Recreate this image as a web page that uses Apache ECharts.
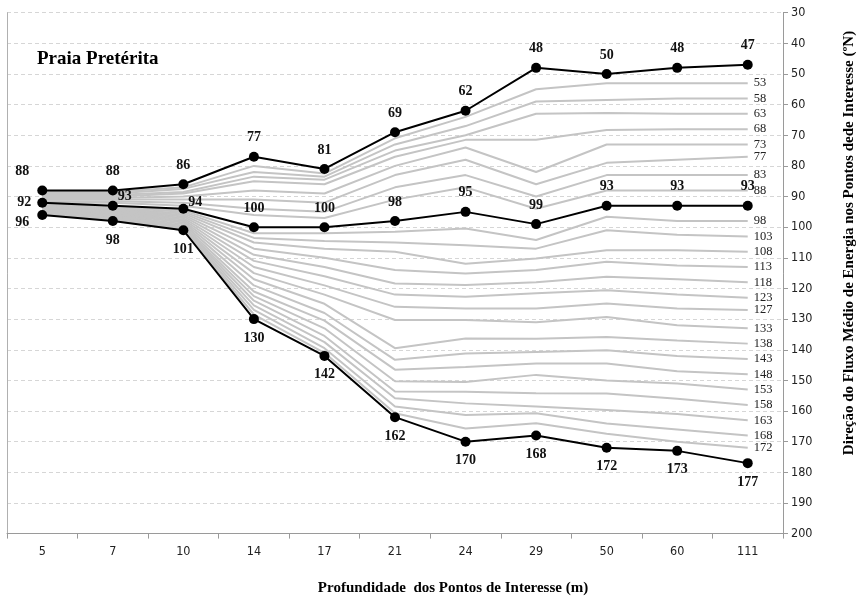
<!DOCTYPE html>
<html>
<head>
<meta charset="utf-8">
<script src="https://cdn.jsdelivr.net/npm/echarts@6/dist/echarts.min.js"></script>
<style>
  html, body { margin: 0; padding: 0; background: #fff; }
  #chart { width: 858px; height: 597px; }
</style>
</head>
<body>
<div id="chart"></div>
<script>
// Profundidade dos pontos de interesse (m)
const depths = ['5', '7', '10', '14', '17', '21', '24', '29', '50', '60', '111'];

// Direções destacadas (ºN)
const upperBlack  = [88, 88, 86, 77, 81, 69, 62, 48, 50, 48, 47];
const middleBlack = [92, 93, 94, 100, 100, 98, 95, 99, 93, 93, 93];
const lowerBlack  = [96, 98, 101, 130, 142, 162, 170, 168, 172, 173, 177];

// Demais direções (linhas cinzas), do topo para a base
const g53  = [88.5, 88.5, 87, 80, 82.5, 71, 64, 55, 53, 53, 53];
const g58  = [89, 89, 87.5, 82, 83.5, 73, 67, 59, 58.5, 58, 58];
const g63  = [89.5, 89.5, 88.5, 83.5, 84.5, 75, 70, 63, 62.7, 63, 63];
const g68  = [90, 90, 89, 85, 86, 77, 71.5, 71.5, 68.3, 68, 68];
const g73  = [90.5, 90.5, 90, 88, 89, 80, 74, 82, 73, 73, 73];
const g77  = [91, 91, 91, 91, 92, 83, 78, 86, 79, 78, 77];
const g83  = [91.5, 91.5, 92, 94, 95, 87, 83, 90, 83, 83, 83];
const g88  = [92, 92, 93, 96, 97, 91, 87, 94, 88, 88, 88];
const g98  = [92.3, 93.3, 94.5, 102, 102, 101.5, 100.4, 104.2, 96.6, 98, 98];
const g103 = [92.6, 93.6, 95, 103.5, 104.5, 105, 105.9, 107, 101, 102.5, 103];
const g108 = [92.9, 93.9, 95.5, 105, 107, 108, 111.9, 110.2, 107.5, 107.5, 108];
const g113 = [93.2, 94.2, 96, 107, 110, 114, 115.1, 114, 111.3, 112.5, 113];
const g118 = [93.5, 94.5, 96.5, 109, 113, 118.4, 118.9, 118, 116.2, 117, 118];
const g123 = [93.8, 94.8, 97, 111, 116, 122, 122.7, 121.6, 120.6, 122, 123];
const g127 = [94.1, 95.1, 97.5, 113, 119, 126, 126.5, 126.5, 124.9, 126.5, 127];
const g133 = [94.4, 95.4, 98, 115, 122, 130.3, 130.3, 131, 129.3, 132, 133];
const g138 = [94.7, 95.7, 98.5, 117, 125, 139.5, 136.3, 136.4, 135.8, 137, 138];
const g143 = [95, 96, 99, 119, 128, 143.3, 141.2, 140.7, 140.2, 142, 143];
const g148 = [95.2, 96.3, 99.5, 121, 130.5, 146.5, 145.6, 144.5, 144.5, 147, 148];
const g153 = [95.4, 96.6, 100, 122.5, 133, 150.3, 150.5, 148.2, 150, 151, 153];
const g158 = [95.6, 96.9, 100.3, 124, 135.5, 153.6, 153.7, 154.2, 154.3, 156, 158];
const g163 = [95.7, 97.2, 100.6, 125.5, 137.5, 155.8, 157.5, 158.5, 159.7, 161, 163];
const g168 = [95.8, 97.5, 100.8, 127, 139.5, 158.5, 161.3, 160.7, 164.1, 166, 168];
const g172 = [95.9, 97.8, 101, 128.5, 141, 160.7, 165.7, 164, 167.4, 170, 172];

const grayLines = [g53, g58, g63, g68, g73, g77, g83, g88,
                   g98, g103, g108, g113, g118, g123, g127, g133,
                   g138, g143, g148, g153, g158, g163, g168, g172];

const serif = '"Liberation Serif", "Times New Roman", serif';
const narrow = '"Liberation Sans Narrow", "DejaVu Sans Condensed", "Liberation Sans", sans-serif';

const labelFont = { fontFamily: serif, fontWeight: 'bold', fontSize: 14, color: '#111' };

function blackSeries(values, pos, special) {
  return {
    type: 'line',
    yAxisIndex: 0,
    z: 5,
    data: values.map((v, i) => special[i] ? { value: v, label: special[i] } : v),
    symbol: 'circle',
    symbolSize: 10,
    itemStyle: { color: '#000' },
    lineStyle: { color: '#000', width: 2 },
    label: Object.assign({ show: true, position: pos, distance: 7 }, labelFont),
    animation: false
  };
}

const series = grayLines.map(vals => ({
  type: 'line',
  yAxisIndex: 0,
  z: 2,
  data: vals,
  symbol: 'none',
  lineStyle: { color: '#c4c4c4', width: 2 },
  endLabel: {
    show: true,
    distance: 6,
    formatter: p => String(vals[vals.length - 1]),
    fontFamily: serif,
    fontSize: 12.5,
    color: '#222'
  },
  silent: true,
  animation: false
}));

series.push(blackSeries(upperBlack, 'top', { 0: { offset: [-20, 0] } }));
series.push(blackSeries(middleBlack, 'top', {
  0: { position: 'left', distance: 6, offset: [0, 0] },
  1: { offset: [12, 10] },
  2: { offset: [12, 13] }
}));
series.push(blackSeries(lowerBlack, 'bottom', { 0: { offset: [-20, -12] } }));

const chart = echarts.init(document.getElementById('chart'), null, { renderer: 'canvas' });
chart.setOption({
  backgroundColor: '#fff',
  animation: false,
  grid: { left: 7, right: 75, top: 12.7, bottom: 63.4 },
  xAxis: {
    type: 'category',
    data: depths,
    boundaryGap: true,
    axisLine: { onZero: false, lineStyle: { color: '#9a9a9a', width: 1 } },
    axisTick: { show: true, length: 5, lineStyle: { color: '#9a9a9a' } },
    axisLabel: { fontFamily: narrow, fontSize: 12.5, color: '#222', margin: 12 },
    splitLine: { show: false }
  },
  yAxis: [
    {
      type: 'value',
      position: 'right',
      inverse: true,
      min: 30,
      max: 200,
      interval: 10,
      axisLine: { show: true, lineStyle: { color: '#9a9a9a', width: 1 } },
      axisTick: { show: true, length: 5, lineStyle: { color: '#9a9a9a' } },
      axisLabel: { fontFamily: narrow, fontSize: 12.5, color: '#222', margin: 8 },
      splitLine: { show: true, lineStyle: { color: '#d6d6d6', type: [4, 3], width: 1 } }
    },
    {
      type: 'value',
      position: 'left',
      inverse: true,
      min: 30,
      max: 200,
      interval: 10,
      axisLine: { show: true, lineStyle: { color: '#b0b0b0', width: 1 } },
      axisTick: { show: false },
      axisLabel: { show: false },
      splitLine: { show: false }
    }
  ],
  graphic: [
    {
      type: 'text',
      left: 37, top: 50,
      style: { text: 'Praia Pretérita', fontFamily: serif, fontWeight: 'bold', fontSize: 19, fill: '#000' }
    },
    {
      type: 'text',
      x: 453, y: 588,
      style: {
        text: 'Profundidade  dos Pontos de Interesse (m)',
        fontFamily: serif, fontWeight: 'bold', fontSize: 15, fill: '#000',
        align: 'center', verticalAlign: 'middle'
      }
    },
    {
      type: 'text',
      x: 849, y: 243,
      rotation: Math.PI / 2,
      style: {
        text: 'Direção do Fluxo Médio de Energia nos Pontos dede Interesse (ºN)',
        fontFamily: serif, fontWeight: 'bold', fontSize: 15, fill: '#000',
        align: 'center', verticalAlign: 'middle'
      }
    }
  ],
  series: series
});
</script>
</body>
</html>
